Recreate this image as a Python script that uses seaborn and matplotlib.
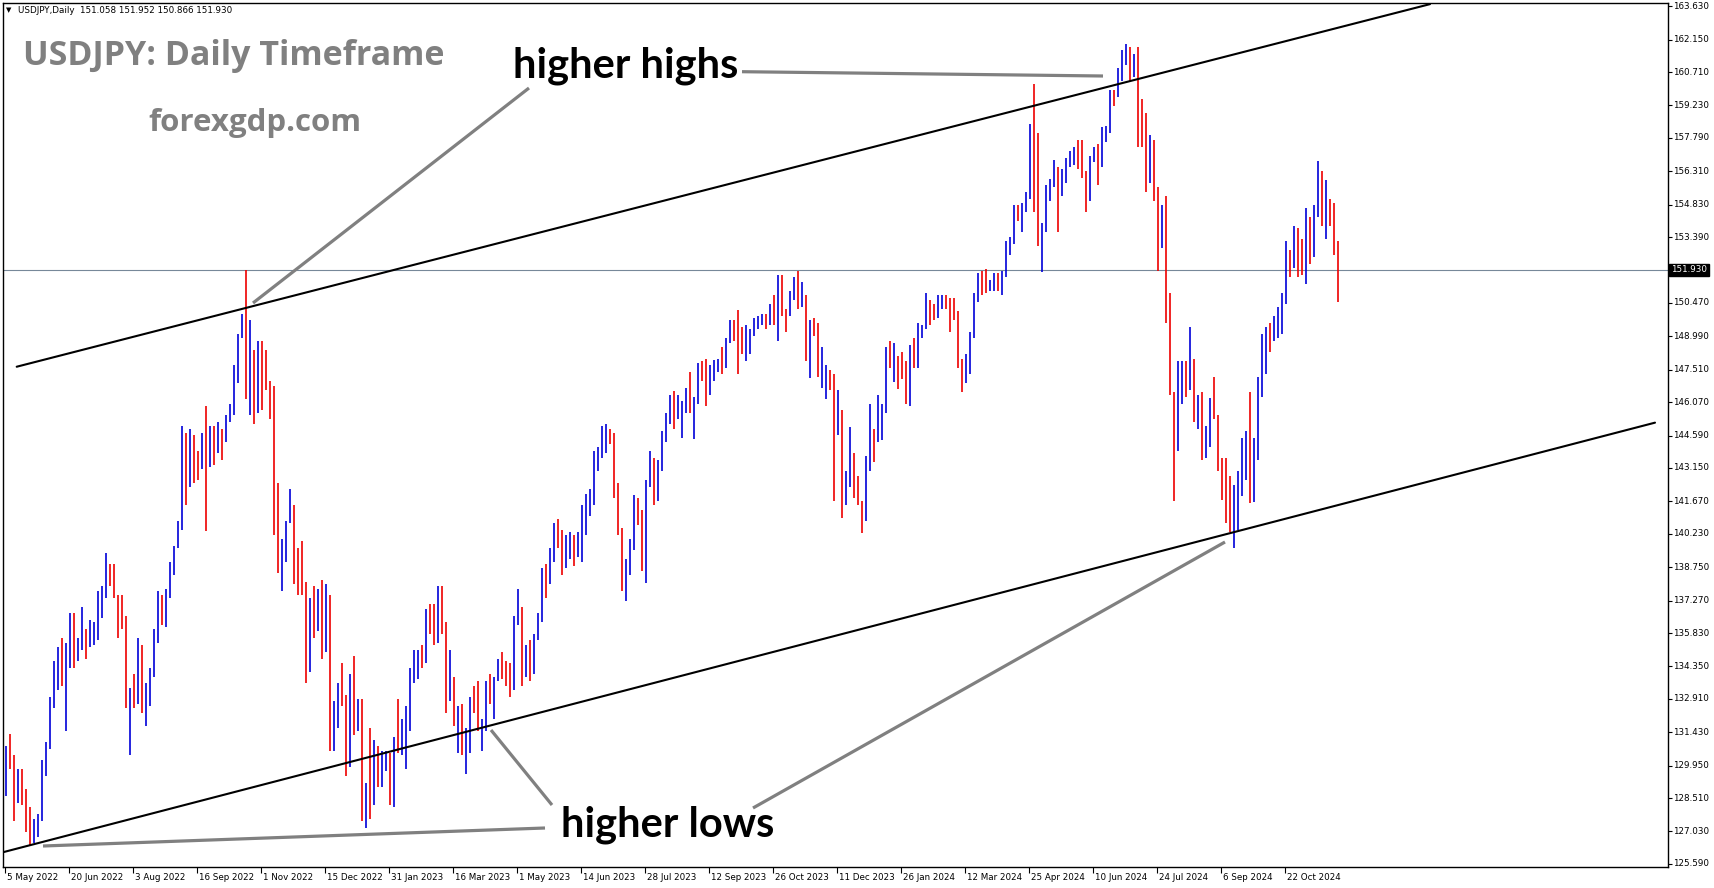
"""
USDJPY daily chart, May 2022 - Nov 2024, MT4 style bar chart
with a rising channel and "higher highs / higher lows" notes.
Each bar below spans two trading days.
"""

import numpy as np
import pandas as pd
import matplotlib
matplotlib.use("Agg")
import matplotlib.pyplot as plt
from matplotlib.lines import Line2D
from matplotlib.transforms import blended_transform_factory
import seaborn as sns


# ──────────────────────────────────────────────
# Data (two-day bars)
# ──────────────────────────────────────────────

bar_low = [
    128.6, 129.8, 127.5, 128.3, 128.2, 127.0, 126.4, 126.5, 126.8, 127.5,
    129.5, 130.7, 132.5, 133.3, 133.5, 131.5, 134.3, 134.3, 134.6, 135.1,
    134.7, 135.2, 135.3, 135.5, 136.5, 137.4, 137.9, 137.4, 135.6, 136.0,
    132.5, 130.4, 132.5, 132.7, 132.3, 131.7, 132.6, 133.9, 135.4, 136.2,
    136.1, 137.4, 138.4, 139.6, 140.4, 141.5, 142.3, 142.5, 142.6, 143.1,
    140.35, 143.2, 143.3, 143.8, 143.5, 144.3, 145.2, 145.5, 146.9, 148.9,
    146.2, 145.5, 145.1, 145.6, 145.7, 146.6, 145.3, 140.2, 138.5, 137.7,
    139.0, 140.7, 138.0, 137.5, 137.5, 133.6, 134.1, 135.6, 135.9, 134.7,
    135.0, 130.6, 130.6, 131.6, 132.6, 129.5, 129.9, 131.3, 131.5, 127.5,
    127.2, 127.6, 128.2, 129.0, 129.0, 129.7, 128.2, 128.1, 130.5, 130.4,
    129.8, 131.5, 133.6, 133.8, 134.3, 134.5, 135.8, 135.3, 135.4, 135.8,
    132.3, 132.8, 131.7, 130.5, 130.4, 129.6, 130.5, 132.3, 131.5, 130.6,
    131.5, 132.7, 132.0, 133.7, 133.8, 133.5, 133.0, 133.3, 136.2, 133.5,
    133.9, 133.7, 134.0, 135.5, 136.3, 137.4, 138.0, 139.0, 139.6, 138.4,
    138.7, 139.1, 138.8, 139.2, 139.0, 140.2, 141.0, 141.5, 143.0, 143.6,
    143.8, 144.2, 141.8, 140.2, 137.7, 137.25, 138.4, 139.5, 140.6, 138.6,
    138.05, 142.3, 141.5, 141.7, 143.0, 144.3, 145.1, 144.9, 145.3, 144.5,
    145.6, 145.6, 144.45, 146.0, 147.0, 145.9, 146.4, 147.0, 147.4, 147.3,
    147.6, 148.7, 148.8, 147.3, 148.2, 147.9, 148.2, 149.0, 149.3, 149.5,
    149.3, 149.5, 149.5, 148.8, 149.9, 149.2, 149.9, 150.6, 150.2, 150.3,
    147.9, 147.15, 149.0, 147.2, 146.7, 146.2, 146.6, 141.7, 144.6, 140.95,
    141.5, 142.3, 141.8, 141.5, 140.25, 140.8, 143.0, 143.4, 144.3, 144.4,
    145.6, 147.6, 146.98, 146.65, 147.1, 146.0, 145.9, 147.6, 147.6, 148.9,
    149.3, 149.5, 149.7, 149.8, 150.2, 150.2, 149.2, 149.7, 147.6, 146.5,
    146.9, 147.3, 148.9, 150.5, 150.8, 150.9, 151.0, 151.0, 151.0, 150.8,
    151.6, 152.6, 153.1, 154.1, 153.6, 154.5, 155.1, 154.5, 153.0, 151.86,
    153.6, 155.0, 155.6, 153.6, 155.2, 155.8, 156.5, 156.6, 156.4, 156.0,
    154.5, 155.0, 156.7, 155.7, 156.5, 157.6, 158.0, 159.2, 159.6, 160.3,
    161.0, 160.3, 160.5, 157.4, 157.4, 155.4, 155.8, 155.0, 151.9, 152.9,
    149.6, 146.4, 141.7, 143.9, 146.0, 146.3, 146.6, 145.2, 144.9, 143.5,
    143.6, 144.1, 145.3, 143.0, 141.75, 140.7, 140.3, 139.58, 140.4, 141.9,
    142.6, 141.6, 141.65, 143.5, 146.3, 147.3, 148.3, 148.8, 148.9, 149.1,
    150.4, 151.6, 152.0, 151.6, 151.7, 151.3, 152.2, 152.5, 154.3, 153.9,
    153.3, 153.9, 152.6, 150.5,
]

bar_high = [
    130.8, 131.35, 130.4, 129.8, 129.8, 128.9, 128.1, 127.6, 127.8, 130.2,
    131.0, 133.0, 134.6, 135.2, 135.6, 135.4, 136.7, 136.7, 135.6, 137.0,
    136.0, 136.4, 136.3, 137.7, 137.9, 139.4, 138.9, 138.9, 137.5, 137.5,
    136.6, 133.4, 134.0, 135.6, 135.3, 133.6, 134.3, 136.0, 137.7, 137.5,
    137.8, 139.0, 139.7, 140.8, 145.0, 144.7, 144.9, 144.6, 143.9, 144.7,
    145.9, 145.0, 145.0, 145.2, 144.9, 145.5, 146.0, 147.7, 149.1, 150.0,
    151.94, 149.7, 148.4, 148.8, 148.8, 148.4, 147.0, 146.8, 142.5, 140.0,
    140.8, 142.2, 141.5, 139.6, 139.9, 138.1, 137.4, 137.9, 137.8, 138.2,
    138.0, 137.5, 132.8, 133.6, 134.5, 133.1, 134.0, 134.8, 132.9, 132.9,
    129.2, 131.6, 131.1, 130.8, 130.6, 130.6, 130.5, 131.2, 132.9, 132.0,
    132.6, 134.3, 135.1, 135.1, 135.3, 136.9, 137.1, 137.1, 137.9, 137.9,
    136.3, 135.1, 133.9, 132.6, 132.7, 131.6, 133.0, 133.5, 133.7, 132.0,
    133.7, 134.0, 133.9, 134.7, 135.0, 134.6, 134.5, 136.6, 137.8, 137.0,
    135.3, 135.5, 135.8, 136.7, 138.7, 138.9, 139.6, 140.7, 140.9, 140.4,
    140.2, 140.3, 140.2, 140.3, 141.5, 142.0, 142.2, 143.9, 144.1, 145.0,
    145.1, 144.9, 144.7, 142.5, 140.5, 139.1, 140.0, 141.95, 141.8, 141.3,
    142.6, 143.9, 143.6, 143.5, 144.8, 145.6, 146.4, 146.55, 146.4, 146.1,
    146.7, 147.4, 146.3, 147.8, 147.9, 148.0, 147.7, 147.95, 148.0, 148.5,
    148.9, 149.7, 149.7, 150.16, 149.4, 149.5, 149.3, 149.8, 149.9, 150.0,
    150.0, 150.4, 150.8, 151.7, 151.7, 150.2, 151.0, 151.6, 151.9, 151.4,
    150.8, 149.7, 149.8, 149.6, 148.5, 147.7, 147.5, 147.3, 146.6, 145.7,
    143.0, 144.95, 143.8, 142.8, 141.7, 143.7, 146.0, 144.9, 146.4, 146.0,
    148.5, 148.8, 148.7, 148.1, 148.3, 147.9, 148.6, 148.9, 149.6, 149.5,
    150.9, 150.6, 150.4, 150.8, 150.8, 150.8, 150.7, 150.7, 150.1, 148.0,
    148.2, 149.2, 150.9, 151.8, 151.9, 151.97, 151.5, 151.8, 151.8, 151.9,
    153.2, 153.4, 154.8, 154.8, 154.9, 155.4, 158.4, 160.2, 157.99, 154.0,
    155.7, 155.95, 156.8, 156.5, 156.4, 156.9, 157.2, 157.4, 157.7, 157.7,
    156.3, 157.0, 157.4, 157.5, 158.25, 158.3, 159.9, 159.9, 160.9, 161.7,
    161.95, 161.8, 161.5, 161.8, 159.5, 158.9, 157.9, 157.7, 155.6, 154.8,
    155.2, 150.9, 146.5, 147.9, 147.9, 147.9, 149.4, 148.0, 146.4, 146.5,
    145.0, 146.25, 147.2, 145.5, 143.6, 143.6, 142.8, 142.4, 143.0, 144.5,
    144.8, 146.5, 144.5, 147.2, 149.1, 149.4, 149.6, 149.9, 150.3, 150.9,
    153.2, 152.8, 153.9, 153.8, 153.3, 154.7, 154.3, 154.8, 156.75, 156.3,
    155.9, 155.1, 154.9, 153.2,
]

# u = bar closed higher (blue), d = bar closed lower (red); ten bars a group
bar_dir = """
u d d u d d d u u u   u u u u d u u d u u   d u u u u u d d d d
d u d u d u u u u d   u u u u u d u d d u   d u d u d u u u u u
d u d u d d d d d u   u u d d d d u d u d   u d u u d d u d u d
u d u d u u d u d u   u u u u d u d d u d   d u d u d u u d d u
u d u u d d d u u d   u d u u u d u u d d   u u d u u u u u u u
u d d d d u u u d d   u u d u u u u d u u   u d u u d d u u u d
u u d d d u u u u u   d u d u d d u u d u   d u d d u u d d u d
u u d d d u u d u u   u d u d d d u d u u   u d d u u d d d d d
u u u u d d u u d u   u u u d u u u d d u   u u u d u u u u d d
d u u d u u u d u u   u d u d d d u d d u   d d d u u d u d u d
u u d d d d d u u u   u d u u u u d u u u   u d u d d u d u u d
u d d d
""".split()

date_labels = [
    "5 May 2022", "20 Jun 2022", "3 Aug 2022", "16 Sep 2022", "1 Nov 2022",
    "15 Dec 2022", "31 Jan 2023", "16 Mar 2023", "1 May 2023", "14 Jun 2023",
    "28 Jul 2023", "12 Sep 2023", "26 Oct 2023", "11 Dec 2023", "26 Jan 2024",
    "12 Mar 2024", "25 Apr 2024", "10 Jun 2024", "24 Jul 2024", "6 Sep 2024",
    "22 Oct 2024",
]
date_label_day = [32 * k for k in range(len(date_labels))]

price_ticks = [
    163.630, 162.150, 160.710, 159.230, 157.790, 156.310, 154.830, 153.390,
    151.930, 150.470, 148.990, 147.510, 146.070, 144.590, 143.150, 141.670,
    140.230, 138.750, 137.270, 135.830, 134.350, 132.910, 131.430, 129.950,
    128.510, 127.030, 125.590,
]
last_price = 151.930
header_text = "USDJPY,Daily  151.058 151.952 150.866 151.930"

# channel lines: (trading day, price) at both ends
upper_channel_day = [5.85, 712.5]
upper_channel_price = [147.64, 163.72]
lower_channel_day = [-1.0, 825.0]
lower_channel_price = [126.11, 145.16]


# ──────────────────────────────────────────────
# Figure
# ──────────────────────────────────────────────

W, H = 1714, 888
L, R, T, B = 3, 1668, 3, 867

sns.set_style("white")
plt.rcParams["font.family"] = ["DejaVu Sans"]

fig = plt.figure(figsize=(W / 100, H / 100), dpi=100)
fig.patch.set_facecolor("white")
ax = fig.add_axes([L / W, 1 - B / H, (R - L) / W, (B - T) / H])
ax.set_xlim(-1, 831.5)
ax.set_ylim(125.455, 163.77)


def fxy(px, py):
    """pixel position (top-left origin) -> figure fraction"""
    return px / W, 1 - py / H


bars = pd.DataFrame({
    "day": 2 * np.arange(len(bar_low)) + 0.5,
    "low": bar_low,
    "high": bar_high,
    "dir": bar_dir[:len(bar_low)],
})
colors = {"u": "#0000d8", "d": "#ee0000"}
for d, sub in bars.groupby("dir"):
    ax.vlines(sub["day"], sub["low"], sub["high"], color=colors[d],
              lw=1.2, zorder=3)

ax.axhline(last_price, color="#778899", lw=0.8, zorder=2)

channels = pd.DataFrame({
    "day": upper_channel_day + lower_channel_day,
    "price": upper_channel_price + lower_channel_price,
    "line": ["upper", "upper", "lower", "lower"],
})
sns.lineplot(data=channels, x="day", y="price", units="line", estimator=None,
             color="black", lw=1.5, ax=ax, zorder=4, legend=False)
ax.set_xlabel("")
ax.set_ylabel("")

# frame
for s in ax.spines.values():
    s.set_visible(True)
    s.set_color("black")
    s.set_linewidth(1.0)

# price axis on the right
ax.yaxis.tick_right()
ax.set_yticks(price_ticks)
ax.set_yticklabels([])
ax.tick_params(axis="y", which="major", right=True, left=False, length=3,
               width=0.8, color="black", direction="out")
ytrans = blended_transform_factory(ax.transAxes, ax.transData)
for p in price_ticks:
    if p == last_price:
        continue
    ax.text(1.0 + 5 / (R - L), p, f"{p:.3f}", transform=ytrans, ha="left",
            va="center", fontsize=6.3, color="black", clip_on=False)
ax.text(1.0 + 3 / (R - L), last_price, f"{last_price:.3f}", transform=ytrans,
        ha="left", va="center", fontsize=6.3, color="white", clip_on=False,
        bbox=dict(facecolor="black", edgecolor="black", pad=1.2))

# date axis
ax.set_xticks(date_label_day)
ax.set_xticklabels([])
ax.tick_params(axis="x", which="major", bottom=True, length=4, width=0.8,
               color="black", direction="out")
xtrans = blended_transform_factory(ax.transData, ax.transAxes)
for d, lab in zip(date_label_day, date_labels):
    ax.text(d + 1.0, -10 / (B - T), lab, transform=xtrans, ha="left",
            va="center", fontsize=6.3, color="black", clip_on=False)

# header
fig.text(*fxy(6, 10.5), "\u25bc", fontsize=5, va="center", ha="left",
         color="black")
fig.text(*fxy(18.5, 10.5), header_text, fontsize=6.3, va="center",
         ha="left", color="black")

# titles
grey = "#808080"
fig.text(*fxy(23, 65), "USDJPY: Daily Timeframe", family="Open Sans",
         fontweight="bold", fontsize=24.5, color=grey, va="baseline")
fig.text(*fxy(148, 131.5), "forexgdp.com", family="Open Sans",
         fontweight="bold", fontsize=22.5, color=grey, va="baseline")

# notes
fig.text(*fxy(513, 77), "higher highs", family="Lato", fontweight="bold",
         fontsize=30, color="black", va="baseline")
fig.text(*fxy(561, 836), "higher lows", family="Lato", fontweight="bold",
         fontsize=30, color="black", va="baseline")

leaders = [
    ((742, 71.7), (1103, 76)),
    ((529, 88), (253, 303)),
    ((545, 828), (43, 846)),
    ((552, 805), (491, 730)),
    ((753, 808), (1225, 542)),
]
for (x1, y1), (x2, y2) in leaders:
    (a1, b1), (a2, b2) = fxy(x1, y1), fxy(x2, y2)
    fig.add_artist(Line2D([a1, a2], [b1, b2], color=grey, lw=2.3,
                          transform=fig.transFigure, solid_capstyle="butt"))

fig.savefig("out.png", dpi=100, facecolor="white")
